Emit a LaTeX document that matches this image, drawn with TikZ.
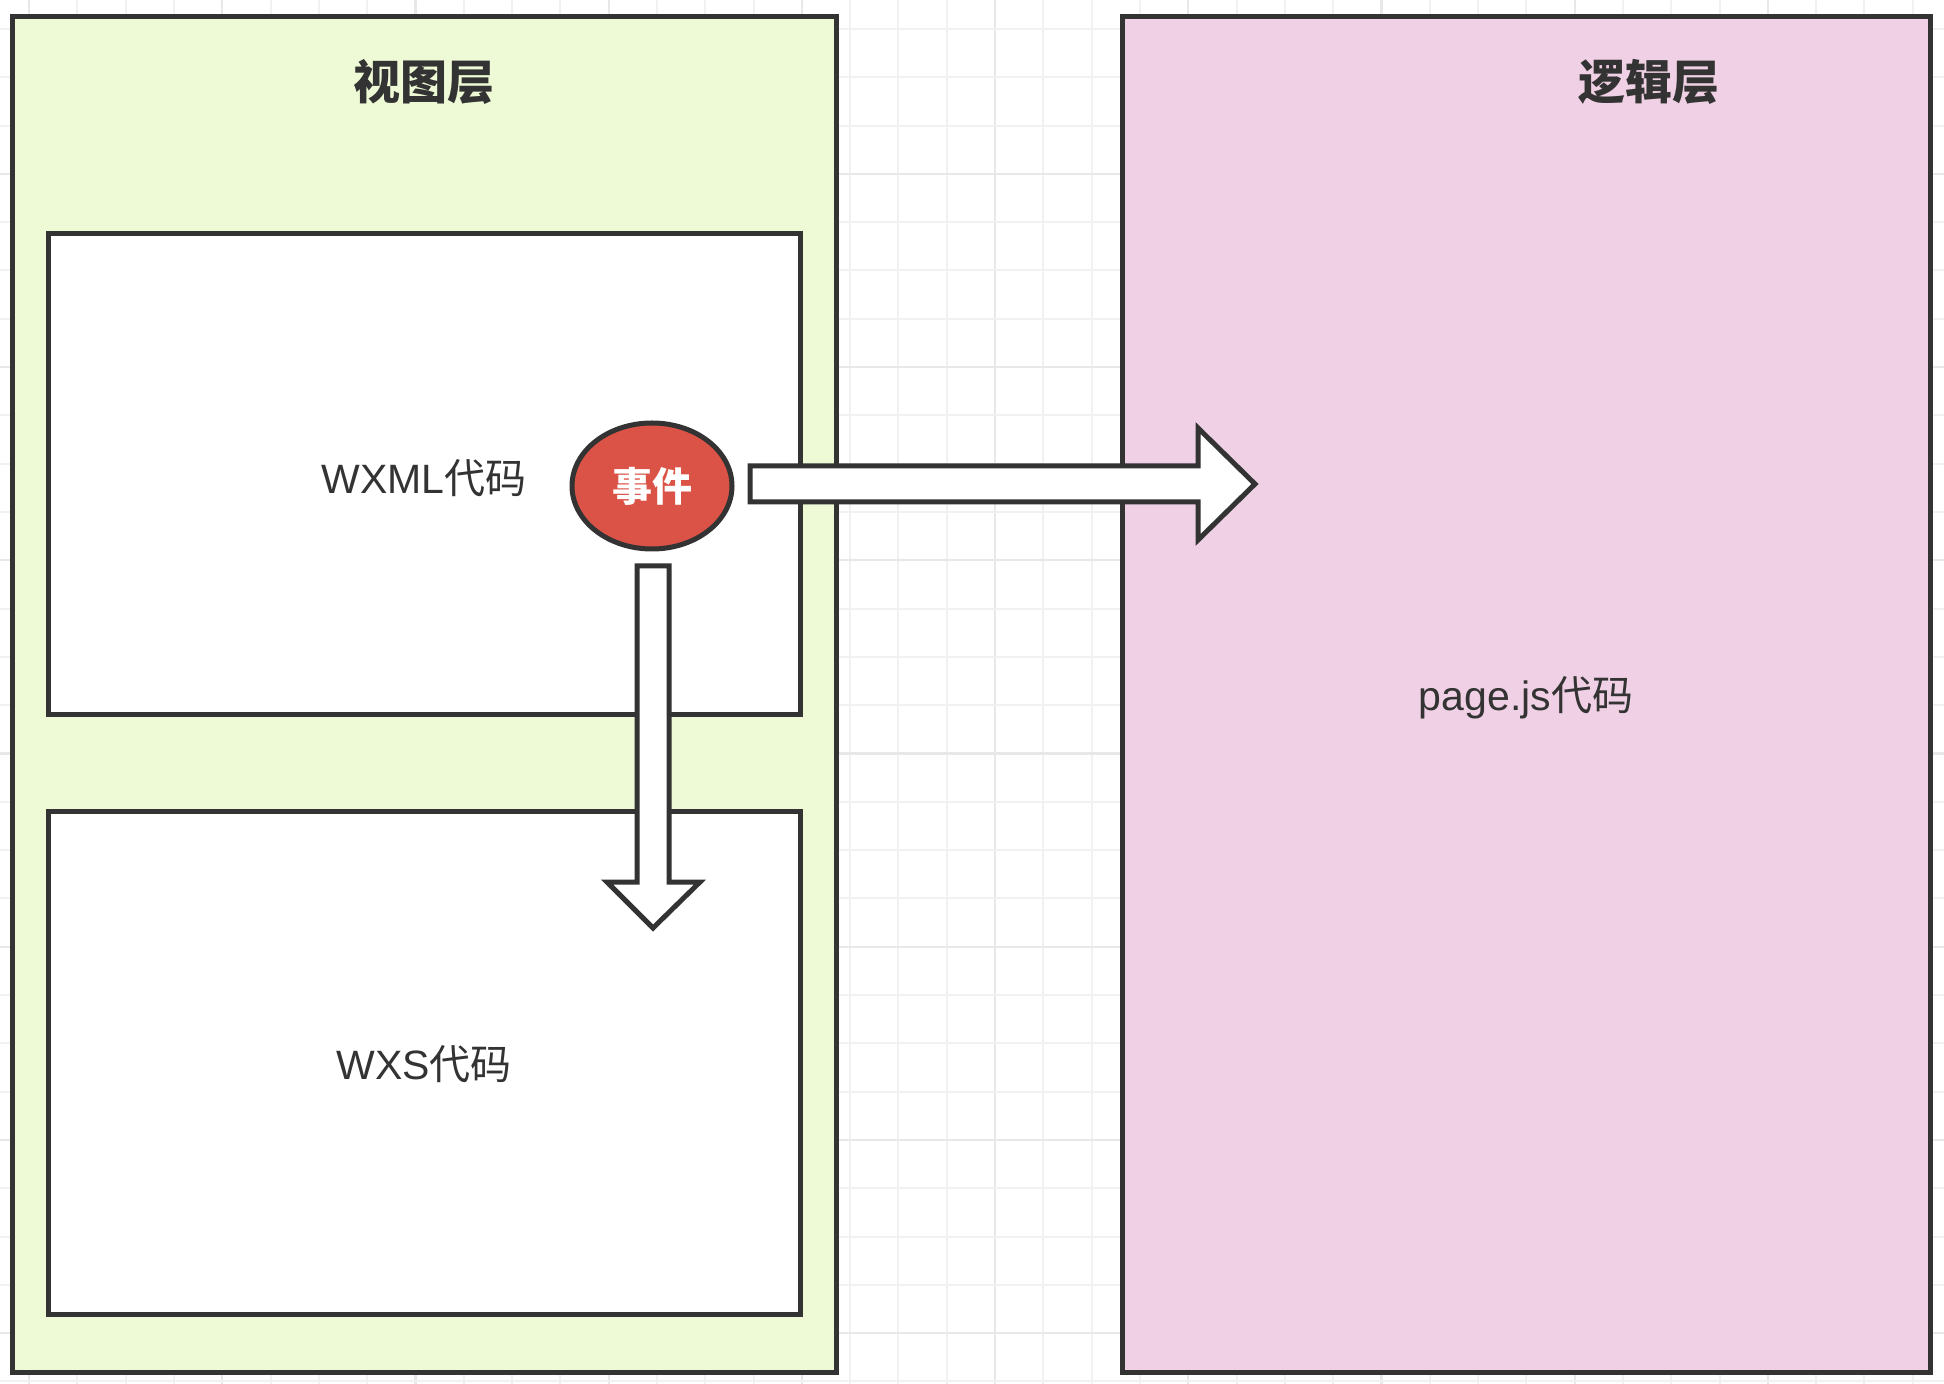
\documentclass[tikz,border=0pt]{standalone}
\usepackage{fontspec}
\setmainfont{Liberation Sans}
\newfontfamily\cjk{Noto Sans CJK SC}
\usetikzlibrary{shapes.geometric,calc}
\definecolor{ink}{HTML}{333333}
\definecolor{viewgreen}{HTML}{EEFAD6}
\definecolor{logicpink}{HTML}{F0D0E4}
\definecolor{eventred}{HTML}{DB5346}
\definecolor{gridminor}{HTML}{F1F1F1}
\definecolor{gridmajor}{HTML}{E8E8E8}
\tikzset{
  layerbox/.style={draw=ink, line width=2.5pt, rectangle, inner sep=0pt, outer sep=0pt},
  codebox/.style={draw=ink, line width=2.5pt, rectangle, fill=white, inner sep=0pt, outer sep=0pt,
    text=ink, font=\fontsize{20.5pt}{24pt}\selectfont},
  titlelabel/.style={text=ink, font=\cjk\bfseries\fontsize{23.5pt}{28pt}\selectfont, inner sep=0pt},
  codelabel/.style={text=ink, font=\fontsize{20.5pt}{24pt}\selectfont, inner sep=0pt},
  eventnode/.style={ellipse, draw=ink, line width=2.5pt, fill=eventred, inner sep=0pt,
    minimum width=80pt, minimum height=63pt, text=white, font=\cjk\bfseries\fontsize{20pt}{24pt}\selectfont},
  blockarrow/.style={draw=ink, line width=2.5pt, fill=white, line join=miter},
}
\begin{document}
\begin{tikzpicture}[x=0.5pt, y=-0.5pt]
\useasboundingbox (0,0) rectangle (1944,1384);
\fill[white] (0,0) rectangle (1944,1384);
% background grid
\foreach \i in {0,...,40} {
  \pgfmathsetmacro{\gx}{29+48.3*\i}
  \pgfmathtruncatemacro{\gm}{mod(\i,4)}
  \ifnum\gm=0
    \draw[gridmajor, line width=1.1pt] (\gx,0) -- (\gx,1384);
  \else
    \draw[gridminor, line width=1pt] (\gx,0) -- (\gx,1384);
  \fi
}
\foreach \j in {0,...,28} {
  \pgfmathsetmacro{\gy}{29+48.3*\j}
  \pgfmathtruncatemacro{\gm}{mod(\j,4)}
  \ifnum\gm=3
    \draw[gridmajor, line width=1.1pt] (0,\gy) -- (1944,\gy);
  \else
    \draw[gridminor, line width=1pt] (0,\gy) -- (1944,\gy);
  \fi
}
% layers
\node[layerbox, fill=viewgreen, minimum width=412pt, minimum height=677.5pt] (view) at (424,694.5) {};
\node[layerbox, fill=logicpink, minimum width=404pt, minimum height=677.5pt] (logic) at (1526,694.5) {};
\node[titlelabel] (viewtitle) at (424,82) {视图层};
\node[titlelabel] (logictitle) at (1649,82) {逻辑层};
% code boxes
\node[codebox, minimum width=376pt, minimum height=240.5pt] (wxml) at (424,474.5) {};
\node[codebox, minimum width=376pt, minimum height=251pt] (wxs) at (424,1063) {};
\node[codelabel] (wxmltext) at (424,478) {WXML{\cjk 代码}};
\node[codelabel] (wxstext) at (424,1064) {WXS{\cjk 代码}};
\node[codelabel] (pagetext) at (1526,698) {page.js{\cjk 代码}};
% event
\node[eventnode] (event) at (652,486) {事件};
% arrow to logic layer
\coordinate (hs) at (750,484);
\coordinate (ht) at (1255,484);
\draw[blockarrow] ($(hs)+(0,-18)$) -- ($(ht)+(-57,-18)$) -- ($(ht)+(-57,-56)$) -- (ht)
  -- ($(ht)+(-57,56)$) -- ($(ht)+(-57,18)$) -- ($(hs)+(0,18)$) -- cycle;
% arrow to WXS
\coordinate (vs) at (653,566);
\coordinate (vt) at (653,928);
\draw[blockarrow] ($(vs)+(-16,0)$) -- ($(vs)+(16,0)$) -- ($(vt)+(16,-46)$) -- ($(vt)+(47,-46)$) -- (vt)
  -- ($(vt)+(-46,-46)$) -- ($(vt)+(-16,-46)$) -- cycle;
\end{tikzpicture}
\end{document}
